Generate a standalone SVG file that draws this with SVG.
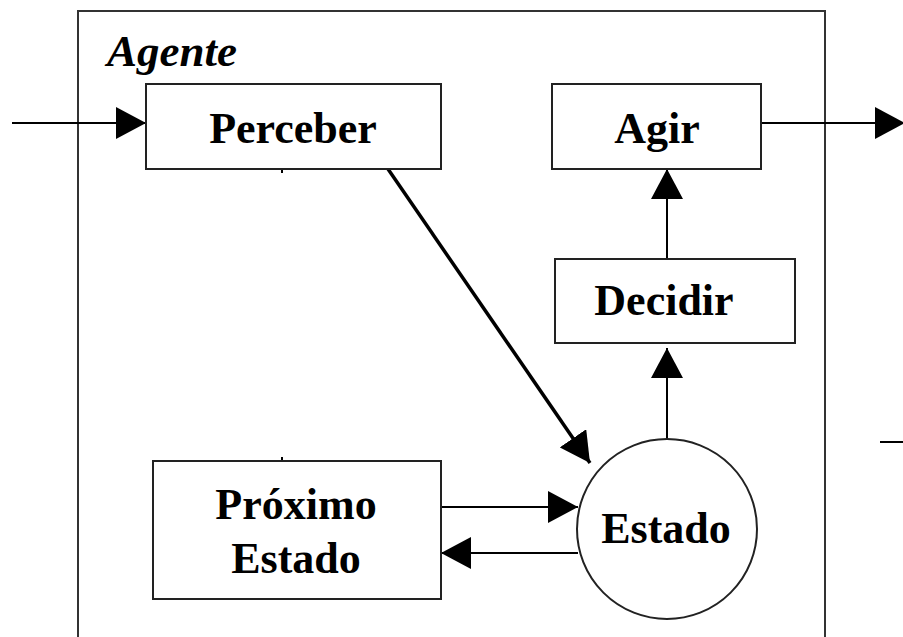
<svg xmlns="http://www.w3.org/2000/svg" width="903" height="637" viewBox="0 0 903 637">
<defs>
<style>
.box{fill:#fff;stroke:#222;stroke-width:2}
.frame{fill:none;stroke:#333;stroke-width:2}
.lbl{font-family:"Liberation Serif","Times New Roman",serif;font-weight:bold;font-size:44px;fill:#000;text-anchor:middle}
.title{font-family:"Liberation Serif","Times New Roman",serif;font-weight:bold;font-style:italic;font-size:45px;fill:#000}
.ln{fill:none;stroke:#000;stroke-width:2}
.thick{fill:none;stroke:#000;stroke-width:3.5}
</style>
<marker id="ah" markerUnits="userSpaceOnUse" markerWidth="30" markerHeight="32" refX="30" refY="16" orient="auto" viewBox="0 0 30 32">
<path d="M0,0 L30,16 L0,32 Z" fill="#000"/>
</marker>
</defs>
<rect width="903" height="637" fill="#fff"/>
<g id="agente">
<path class="frame" d="M78,640 L78,11 L825,11 L825,640"/>
<text class="title" x="107" y="66">Agente</text>
</g>
<g id="connectors">
<line class="ln" x1="12" y1="123" x2="146" y2="123" marker-end="url(#ah)"/>
<line class="ln" x1="761" y1="123" x2="905" y2="123" marker-end="url(#ah)"/>
<line class="ln" x1="667" y1="259" x2="667" y2="169" marker-end="url(#ah)"/>
<line class="ln" x1="667" y1="439" x2="667" y2="348" marker-end="url(#ah)"/>
<line class="thick" x1="388" y1="169" x2="590" y2="463" marker-end="url(#ah)"/>
<line class="ln" x1="441" y1="507" x2="578" y2="507" marker-end="url(#ah)"/>
<line class="ln" x1="578" y1="553" x2="441" y2="553" marker-end="url(#ah)"/>
<line class="ln" x1="880" y1="442" x2="903" y2="442"/>
<line class="ln" x1="282" y1="169" x2="282" y2="173"/>
<line class="ln" x1="282" y1="457" x2="282" y2="461"/>
</g>
<g id="perceber">
<rect class="box" x="146" y="84" width="295" height="85"/>
<text class="lbl" x="293" y="143">Perceber</text>
</g>
<g id="agir">
<rect class="box" x="552" y="84" width="209" height="85"/>
<text class="lbl" x="657" y="143">Agir</text>
</g>
<g id="decidir">
<rect class="box" x="555" y="259" width="240" height="84"/>
<text class="lbl" x="664" y="315">Decidir</text>
</g>
<g id="estado">
<circle class="box" cx="667" cy="529" r="90"/>
<text class="lbl" x="666" y="543">Estado</text>
</g>
<g id="proximo">
<rect class="box" x="153" y="461" width="288" height="138"/>
<text class="lbl" x="296" y="519">Próximo</text>
<text class="lbl" x="296" y="573">Estado</text>
</g>
</svg>
